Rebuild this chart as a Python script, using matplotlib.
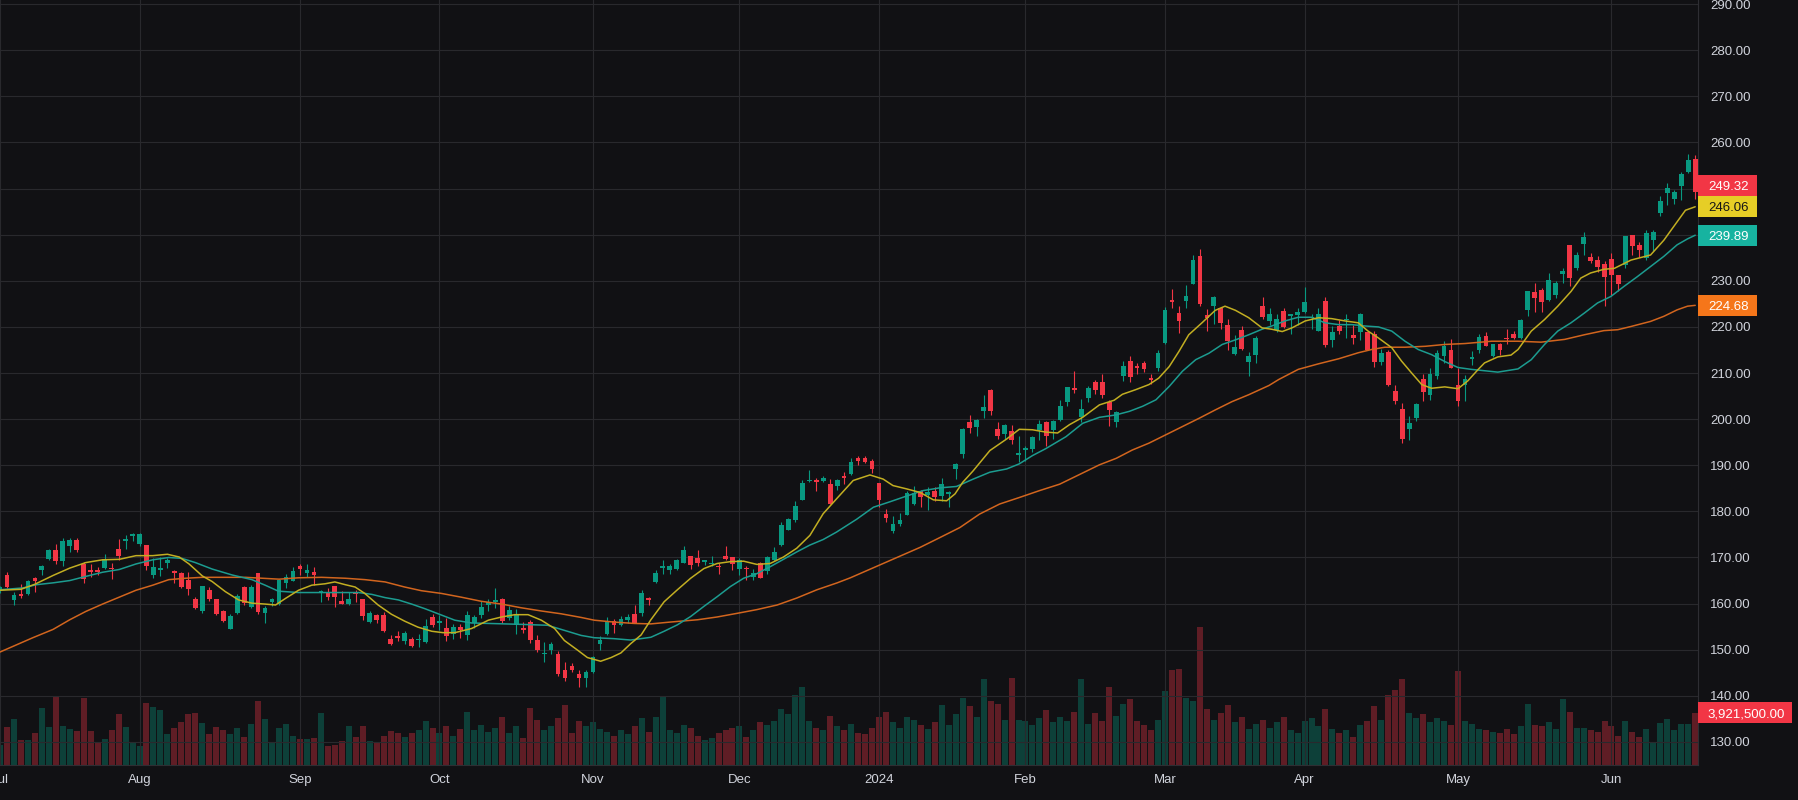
import numpy as np
import matplotlib
matplotlib.use("Agg")
import matplotlib.pyplot as plt
from matplotlib.patches import Rectangle
from matplotlib.transforms import IdentityTransform

plt.rcParams['font.family'] = ['Liberation Sans', 'DejaVu Sans']

# ------------------------------------------------------------------
# daily candles, Jul 2023 -> Jun 2024
# ------------------------------------------------------------------
opens = [163.0, 166.2, 160.8, 162.0, 162.0, 165.6, 167.3, 169.6, 171.6, 169.2,
         172.4, 173.9, 168.6, 167.3, 167.2, 167.7, 167.7, 171.8, 173.5, 174.6,
         173.0, 172.8, 166.2, 167.2, 168.9, 167.0, 166.7, 165.2, 161.1, 158.4,
         163.0, 160.9, 158.4, 154.6, 157.9, 163.7, 159.2, 166.7, 157.9, 160.3,
         159.9, 164.4, 165.0, 168.1, 166.7, 166.9, 162.4, 162.2, 163.8, 160.5,
         159.9, 162.6, 161.1, 156.1, 157.5, 157.5, 152.4, 152.9, 151.8, 152.4,
         152.1, 151.6, 157.2, 155.7, 154.8, 153.5, 155.0, 153.3, 155.7, 157.5,
         159.6, 160.4, 161.1, 156.8, 155.3, 154.8, 156.1, 152.2, 149.0, 150.0,
         149.1, 145.7, 146.4, 144.8, 143.8, 145.1, 151.3, 153.5, 156.3, 155.3,
         156.4, 157.8, 157.9, 161.2, 164.7, 167.7, 167.2, 167.4, 168.9, 170.4,
         169.8, 169.0, 168.5, 168.2, 170.4, 170.2, 167.6, 167.7, 165.8, 168.9,
         167.1, 169.4, 172.8, 176.0, 178.2, 182.5, 186.5, 186.8, 186.5, 186.0,
         185.6, 187.7, 188.1, 191.6, 191.6, 190.9, 186.2, 179.4, 175.8, 177.2,
         179.2, 181.6, 184.4, 183.6, 184.4, 183.3, 183.8, 189.2, 192.5, 199.4,
         198.3, 201.8, 206.4, 197.9, 196.8, 197.5, 192.2, 193.3, 193.6, 197.7,
         199.4, 197.7, 199.8, 203.8, 206.8, 200.4, 204.6, 208.1, 208.1, 203.7,
         199.4, 209.3, 212.7, 211.4, 212.2, 208.8, 211.2, 216.6, 225.9, 223.1,
         225.7, 229.4, 235.3, 222.5, 224.6, 224.2, 220.5, 214.2, 219.4, 212.5,
         214.0, 224.6, 221.2, 219.3, 223.4, 222.3, 222.6, 223.2, 221.9, 219.2,
         225.7, 217.1, 220.1, 221.5, 218.2, 218.8, 218.8, 218.4, 212.5, 214.5,
         206.2, 202.1, 197.8, 200.2, 208.8, 205.2, 209.3, 213.6, 214.9, 207.3,
         207.5, 213.0, 215.1, 218.1, 213.6, 216.2, 217.7, 218.4, 217.5, 223.7,
         227.6, 228.1, 225.9, 227.0, 231.5, 237.8, 232.8, 238.0, 235.2, 234.5,
         233.7, 234.8, 231.2, 233.5, 239.9, 237.8, 235.0, 238.8, 244.7, 249.0,
         247.7, 250.5, 253.7, 256.5]

highs = [163.8, 166.9, 162.6, 164.3, 165.2, 165.7, 168.4, 171.9, 173.0, 174.3,
         174.3, 174.2, 169.1, 168.6, 168.0, 170.7, 168.8, 174.1, 174.8, 175.3,
         175.3, 172.8, 169.9, 170.1, 169.9, 167.2, 166.9, 166.8, 161.4, 163.9,
         163.5, 161.1, 158.7, 157.7, 162.0, 163.9, 164.1, 166.7, 159.5, 161.3,
         165.4, 166.5, 167.9, 168.5, 168.6, 167.9, 162.9, 163.3, 163.8, 162.8,
         162.6, 162.9, 161.1, 158.5, 157.8, 158.2, 153.2, 154.0, 154.0, 152.8,
         153.5, 156.7, 157.7, 157.6, 156.9, 155.6, 155.6, 158.4, 157.5, 160.6,
         160.9, 163.3, 161.3, 159.4, 158.8, 156.0, 156.5, 153.2, 151.7, 151.7,
         149.7, 147.4, 147.2, 145.6, 145.5, 148.6, 153.0, 157.1, 156.7, 157.4,
         157.7, 159.8, 162.9, 161.4, 167.3, 169.4, 168.6, 169.6, 172.4, 170.4,
         171.7, 169.4, 170.4, 168.9, 172.4, 170.2, 169.8, 168.1, 167.4, 169.1,
         170.4, 172.2, 177.7, 178.6, 182.3, 186.8, 189.0, 187.3, 187.7, 187.1,
         187.1, 188.6, 191.5, 192.0, 192.0, 191.4, 186.2, 180.5, 179.0, 179.6,
         184.4, 185.5, 184.6, 185.3, 185.3, 187.2, 184.4, 190.5, 198.1, 200.9,
         200.1, 205.3, 206.6, 199.4, 199.0, 198.8, 196.4, 194.2, 196.4, 199.9,
         199.6, 199.9, 204.2, 207.0, 210.4, 204.4, 207.2, 208.6, 209.9, 204.2,
         201.7, 212.7, 213.8, 212.2, 212.7, 209.9, 214.9, 224.4, 228.3, 224.6,
         229.2, 235.5, 236.8, 223.8, 226.8, 224.4, 221.8, 218.3, 220.3, 214.6,
         218.1, 226.4, 224.2, 222.7, 224.0, 222.9, 224.2, 228.6, 222.7, 224.2,
         226.4, 220.3, 221.4, 222.9, 220.5, 223.1, 219.0, 219.2, 215.3, 214.9,
         207.5, 203.6, 200.6, 203.5, 209.9, 211.2, 215.1, 216.9, 217.3, 211.2,
         209.5, 214.7, 218.4, 218.8, 216.4, 216.6, 219.6, 219.2, 221.8, 227.8,
         229.6, 228.5, 231.7, 230.0, 232.8, 237.8, 236.3, 240.6, 236.0, 235.4,
         234.2, 236.0, 231.3, 239.7, 239.9, 238.4, 241.0, 241.0, 248.3, 251.2,
         249.6, 253.5, 257.6, 257.2]

lows = [162.2, 163.3, 159.6, 161.3, 161.8, 162.6, 166.2, 169.4, 168.6, 168.2,
        171.2, 171.2, 164.5, 165.7, 166.1, 167.5, 165.4, 169.5, 171.8, 173.6,
        172.6, 167.3, 165.6, 165.9, 167.7, 164.4, 163.3, 161.8, 158.8, 157.9,
        160.6, 157.6, 156.0, 154.4, 157.7, 159.7, 159.0, 157.8, 155.7, 159.4,
        159.6, 163.3, 164.8, 166.1, 165.7, 164.1, 160.4, 160.8, 159.2, 159.9,
        159.7, 160.4, 156.5, 155.8, 155.7, 153.9, 151.1, 151.8, 151.2, 150.5,
        150.5, 151.5, 154.9, 154.2, 151.8, 152.4, 152.6, 152.2, 154.8, 156.9,
        158.3, 159.1, 155.9, 156.5, 153.5, 153.7, 151.5, 149.6, 147.3, 149.1,
        144.2, 143.3, 145.1, 142.0, 142.0, 145.0, 149.9, 153.3, 153.7, 155.1,
        155.7, 155.7, 157.4, 159.7, 164.4, 166.5, 166.5, 167.3, 168.7, 167.5,
        168.2, 168.3, 168.1, 166.5, 169.4, 167.2, 166.3, 165.1, 165.1, 165.5,
        166.4, 169.2, 172.6, 175.9, 177.6, 182.5, 186.3, 184.4, 186.3, 181.7,
        184.7, 186.0, 187.9, 190.1, 190.5, 188.3, 181.0, 177.6, 175.3, 176.9,
        179.2, 181.4, 180.9, 180.3, 182.2, 182.2, 180.9, 187.0, 191.6, 197.0,
        196.4, 200.3, 200.9, 195.7, 195.7, 194.6, 190.7, 190.9, 192.9, 195.5,
        194.2, 195.6, 199.6, 202.8, 205.7, 199.3, 203.8, 205.5, 204.6, 198.6,
        198.3, 208.3, 208.0, 209.7, 210.3, 207.7, 210.5, 216.4, 224.2, 218.6,
        224.0, 229.4, 224.6, 219.2, 220.7, 219.6, 214.9, 214.0, 215.1, 209.4,
        212.2, 221.8, 220.5, 219.0, 219.7, 218.4, 220.5, 223.1, 219.5, 219.2,
        215.6, 215.6, 218.4, 217.7, 216.2, 217.1, 215.1, 211.4, 211.7, 207.1,
        203.2, 194.8, 195.4, 199.7, 203.9, 204.1, 208.8, 212.1, 211.0, 202.8,
        203.9, 211.7, 214.3, 215.8, 213.4, 214.0, 216.4, 217.3, 217.3, 222.4,
        223.3, 223.3, 225.7, 226.3, 229.6, 228.9, 232.4, 235.6, 233.9, 231.9,
        224.5, 227.0, 227.7, 232.7, 235.6, 235.2, 234.5, 236.5, 244.0, 246.4,
        246.6, 247.5, 253.3, 247.7]

closes = [163.5, 163.5, 161.8, 161.6, 165.0, 164.8, 168.2, 171.6, 169.2, 173.5,
          173.7, 171.6, 165.4, 166.9, 166.9, 169.7, 167.4, 170.3, 174.1, 175.0,
          175.0, 168.2, 168.0, 167.7, 169.5, 166.7, 163.6, 163.1, 159.0, 163.9,
          160.9, 157.7, 156.3, 157.3, 161.7, 160.2, 163.6, 158.2, 159.0, 160.9,
          165.2, 165.7, 167.1, 167.4, 167.2, 166.1, 162.6, 161.4, 161.4, 159.9,
          160.9, 162.1, 157.4, 157.9, 156.5, 154.0, 151.2, 152.6, 153.7, 150.9,
          152.3, 155.1, 155.3, 156.3, 152.9, 155.0, 154.2, 157.6, 157.2, 159.3,
          160.4, 160.8, 156.3, 158.6, 157.7, 154.3, 152.0, 149.9, 149.1, 151.3,
          144.8, 143.9, 145.7, 143.8, 145.2, 148.5, 152.0, 156.1, 155.4, 156.7,
          157.0, 155.9, 162.4, 160.7, 166.7, 168.1, 168.1, 169.4, 171.7, 168.3,
          168.9, 169.4, 168.9, 168.0, 169.6, 168.5, 169.4, 167.5, 166.6, 165.5,
          170.0, 171.3, 177.1, 178.4, 181.2, 186.2, 186.8, 186.3, 187.3, 181.7,
          186.8, 187.3, 190.7, 191.0, 190.7, 189.2, 182.5, 178.6, 177.2, 178.1,
          184.0, 184.0, 183.1, 184.2, 183.1, 185.9, 184.2, 190.3, 197.9, 198.1,
          199.9, 202.7, 201.8, 196.4, 198.8, 195.5, 192.7, 193.8, 196.2, 199.0,
          196.4, 199.6, 202.9, 206.9, 206.4, 202.2, 206.8, 206.4, 205.3, 201.9,
          201.5, 211.6, 209.1, 211.2, 210.9, 208.6, 214.4, 223.6, 225.5, 221.2,
          226.8, 234.6, 224.9, 222.0, 226.6, 220.9, 217.0, 215.7, 215.3, 213.8,
          217.5, 222.2, 222.7, 221.8, 220.0, 222.9, 223.2, 225.5, 222.1, 222.7,
          216.0, 218.8, 219.2, 221.8, 217.5, 222.7, 215.1, 212.3, 214.3, 207.5,
          203.9, 195.6, 199.1, 203.2, 205.8, 209.7, 214.3, 215.9, 211.0, 203.9,
          208.8, 213.4, 217.9, 215.8, 216.2, 215.1, 217.3, 217.7, 221.6, 227.8,
          226.3, 225.3, 230.2, 229.6, 232.2, 230.6, 235.6, 239.5, 234.3, 232.9,
          230.9, 231.3, 229.4, 239.7, 237.6, 236.7, 240.4, 240.6, 247.3, 250.1,
          249.2, 253.1, 256.3, 249.32]

# volume in millions of shares
volumes_m = [1.5, 2.85, 3.45, 1.87, 1.87, 2.4, 4.27, 2.85, 5.1, 2.92,
             2.7, 2.55, 5.0, 2.55, 1.65, 1.95, 2.62, 3.82, 2.85, 1.65,
             1.42, 4.65, 4.35, 4.12, 2.32, 2.77, 3.22, 3.82, 3.9, 3.15,
             2.32, 2.85, 2.62, 2.32, 2.77, 2.1, 3.07, 4.8, 3.45, 1.72,
             2.77, 3.07, 2.17, 1.95, 1.95, 2.02, 3.9, 1.42, 1.5, 1.8,
             2.92, 2.1, 2.92, 1.8, 1.65, 2.17, 2.55, 2.4, 2.1, 2.4,
             2.6, 3.3, 2.8, 2.4, 2.9, 2.2, 2.7, 4.0, 2.6, 3.0,
             2.5, 2.8, 3.6, 2.4, 2.9, 2.0, 4.3, 3.4, 2.6, 2.9,
             3.5, 4.5, 2.4, 3.3, 2.9, 3.2, 2.7, 2.5, 2.2, 2.6,
             2.3, 2.9, 3.5, 2.5, 3.6, 5.1, 2.6, 2.4, 3.0, 2.8,
             2.2, 1.9, 2.0, 2.4, 2.6, 2.8, 2.9, 2.1, 2.6, 3.2,
             3.0, 3.3, 4.2, 3.8, 5.2, 5.8, 3.3, 2.8, 2.6, 3.7,
             2.9, 2.6, 3.1, 2.4, 2.3, 2.8, 3.6, 4.0, 3.2, 2.8,
             3.6, 3.4, 3.0, 2.7, 3.2, 4.5, 3.0, 3.8, 5.0, 4.4,
             3.6, 6.4, 4.8, 4.6, 3.4, 6.5, 3.4, 3.3, 3.0, 3.5,
             4.1, 3.2, 3.6, 3.3, 4.0, 6.4, 3.1, 3.9, 3.3, 5.8,
             3.7, 4.6, 4.9, 3.3, 3.0, 2.6, 3.4, 5.5, 7.1, 7.2,
             5.0, 4.8, 10.3, 4.2, 3.4, 3.9, 4.5, 3.2, 3.6, 2.7,
             3.1, 3.4, 2.8, 3.2, 3.6, 2.6, 2.4, 3.3, 3.5, 2.9,
             4.2, 2.7, 2.4, 2.6, 2.1, 3.0, 3.3, 4.4, 3.4, 5.2,
             5.6, 6.4, 3.9, 3.5, 3.8, 3.2, 3.5, 3.3, 3.0, 7.0,
             3.3, 3.1, 2.7, 2.6, 2.5, 2.4, 2.7, 2.3, 2.9, 4.6,
             3.0, 2.9, 3.2, 2.7, 4.9, 4.0, 2.8, 2.8, 2.6, 2.5,
             3.3, 2.9, 2.2, 3.3, 2.5, 2.1, 2.7, 1.7, 3.13, 3.45,
             2.62, 3.07, 3.07, 3.9215]

month_labels = ['Jul', 'Aug', 'Sep', 'Oct', 'Nov', 'Dec', '2024', 'Feb', 'Mar', 'Apr', 'May', 'Jun']
month_starts = [0, 20, 43, 63, 85, 106, 126, 147, 167, 187, 209, 231]

# moving averages (bar index, value)
ma_fast_pts = [(0, 162.9), (3, 163.1), (5, 164.2), (7.6, 166.1), (10, 167.7), (12.3, 168.9), (14.7, 169.5),
               (17.1, 169.6), (19.5, 170.4), (21.9, 170.4), (24, 170.7), (25.7, 170.1), (27.1, 168.6),
               (29, 166.0), (30.4, 164.8), (32.3, 162.6), (34.2, 160.8), (36.1, 160.1), (38, 159.9),
               (39.5, 159.7), (40.9, 161.1), (42.8, 162.9), (44.7, 164.0), (46.6, 164.3), (48, 164.7),
               (49.5, 164.1), (50.9, 163.6), (52.3, 162.2), (54.2, 159.7), (56.1, 157.7), (58, 156.2),
               (59.9, 154.9), (61.9, 154.0), (63.5, 153.7), (65.2, 153.7), (67.6, 154.6), (70, 156.4),
               (71.9, 157.1), (73.8, 157.6), (75.7, 157.6), (77.6, 156.4), (79.5, 154.6), (80.9, 152.0),
               (82.8, 149.9), (84.2, 148.3), (86.1, 147.5), (87.6, 148.3), (89, 149.3), (90.4, 151.3),
               (91.9, 153.2), (93.3, 156.5), (95.2, 160.4), (97.1, 163.0), (99, 165.5), (100.9, 167.6),
               (102.8, 168.7), (104.7, 169.1), (106.6, 169.2), (108.5, 168.5), (110.4, 168.7), (112.3, 170.1),
               (114.2, 172.0), (116.1, 174.8), (118, 179.5), (119.9, 182.7), (122.3, 186.7), (124.7, 187.9),
               (126.6, 187.0), (128, 185.6), (129.9, 184.9), (131.9, 184.1), (133.8, 182.5), (135.7, 182.3),
               (136.9, 183.8), (138, 186.3), (139.5, 188.8), (141.9, 193.2), (144.3, 195.7), (146.1, 197.8),
               (148, 197.7), (149.9, 197.2), (151.6, 197.0), (153.3, 198.8), (155.2, 200.4), (157.6, 203.1),
               (159.7, 204.1), (160.9, 205.4), (162.8, 206.4), (164.7, 207.5), (166.1, 208.9), (167.6, 211.4),
               (169, 214.7), (170.4, 218.3), (172.3, 220.9), (174.2, 223.6), (175.6, 224.5), (177.1, 223.6),
               (179, 222.0), (180.9, 219.8), (182.3, 219.5), (183.8, 219.0), (185.2, 219.8), (187.1, 221.3),
               (189, 222.0), (190.9, 221.8), (192.8, 221.3), (194.7, 220.9), (196.1, 219.1), (197.6, 217.6),
               (199.5, 215.5), (200.9, 212.6), (202.3, 210.1), (203.8, 207.5), (205.2, 206.7), (207.1, 207.0),
               (209, 206.6), (210.4, 208.3), (211.9, 210.8), (212.8, 212.2), (214.7, 213.5), (216.6, 213.9),
               (217.6, 215.1), (219.5, 219.1), (221.4, 221.6), (223.3, 224.5), (225.2, 227.7), (226.6, 230.6),
               (228, 231.7), (229.9, 232.5), (231.4, 232.7), (233.8, 234.5), (236.6, 235.6), (238.5, 238.8),
               (240.4, 242.8), (241.6, 245.3), (243, 246.06)]

ma_mid_pts = [(0, 163.0), (3.3, 163.4), (5.2, 164.1), (7.6, 164.5), (10, 165.0), (12.3, 165.9), (14.7, 166.8),
              (17.1, 167.4), (19.5, 168.6), (21.9, 169.5), (24.2, 170.0), (26.1, 169.8), (28, 168.9),
              (30.4, 167.5), (33.3, 166.2), (36.1, 165.2), (38, 164.0), (39.9, 162.7), (42.8, 162.4),
              (45.7, 162.4), (48.6, 162.4), (51.4, 162.4), (53.3, 162.0), (55.2, 161.3), (57.1, 160.8),
              (59, 159.9), (60.9, 158.9), (62.8, 157.8), (65.2, 156.4), (67.6, 155.8), (70, 155.7),
              (74.7, 155.5), (78.5, 155.3), (80.9, 154.2), (83.3, 153.1), (85.2, 152.6), (88, 152.4),
              (90.4, 152.1), (91.4, 152.3), (93.3, 152.7), (95.2, 154.0), (97.1, 155.4), (99, 157.2),
              (100.9, 159.4), (102.8, 161.5), (104.7, 163.7), (106.6, 165.5), (108.5, 166.5), (110.4, 168.0),
              (112.3, 169.6), (114.2, 171.2), (116.1, 172.7), (118, 173.9), (119.9, 175.5), (122.8, 178.3),
              (125.2, 180.9), (127.6, 182.1), (129.9, 183.3), (132.3, 184.5), (134.7, 185.1), (137.1, 185.4),
              (139.5, 187.0), (141.9, 188.5), (144.3, 189.2), (146.1, 190.3), (148, 192.1), (149.9, 193.6),
              (152.8, 196.2), (155.2, 199.1), (157.6, 200.4), (159.9, 200.9), (161.9, 201.7), (163.8, 202.8),
              (165.7, 204.2), (167.6, 207.1), (169.5, 210.4), (171.4, 212.9), (173.3, 214.3), (175.2, 216.2),
              (177.1, 217.2), (179, 218.3), (180.9, 219.5), (182.3, 220.2), (184.2, 221.3), (186.1, 222.1),
              (188, 222.1), (189.9, 220.9), (191.9, 220.5), (193.8, 220.5), (195.7, 220.2), (197.6, 220.0),
              (199.5, 219.1), (201.4, 216.9), (203.3, 215.1), (205.2, 214.0), (207.1, 212.5), (209, 211.2),
              (210.9, 210.8), (212.8, 210.5), (214.7, 210.2), (217.6, 210.9), (219.5, 212.9), (221.4, 216.2),
              (223.3, 219.1), (225.2, 220.9), (227.1, 223.0), (229, 225.2), (230.9, 226.6), (232.8, 228.8),
              (234.7, 230.9), (236.6, 233.1), (238.5, 235.3), (240.4, 237.8), (241.9, 239.1), (243, 239.89)]

ma_slow_pts = [(0, 149.5), (4.7, 152.6), (7.6, 154.4), (10, 156.5), (12.3, 158.3), (14.7, 159.9), (17.1, 161.4),
               (19.5, 162.9), (21.9, 164.0), (24.2, 165.2), (26.6, 165.5), (29, 165.7), (31.9, 165.7),
               (35.2, 165.7), (40, 165.3), (42.8, 165.6), (46.1, 165.7), (49.5, 165.5), (52.3, 165.2),
               (55.2, 164.7), (58, 163.6), (60.4, 162.8), (63.3, 162.2), (66.1, 161.4), (69, 160.5),
               (71.9, 159.9), (74.7, 159.1), (77.6, 158.4), (80.4, 157.8), (83.3, 157.0), (85.2, 156.4),
               (88, 156.0), (90.9, 155.7), (93.3, 155.6), (96.1, 156.0), (100, 156.5), (102.8, 157.1),
               (105.7, 157.9), (108.5, 158.7), (111.4, 159.7), (114.2, 161.2), (117.1, 163.0), (120, 164.5),
               (121.9, 165.6), (131.9, 172.2), (134.7, 174.3), (137.6, 176.5), (140.4, 179.4), (143.3, 181.6),
               (146.1, 183.0), (149, 184.5), (151.9, 185.9), (157.6, 190.1), (160, 191.5), (162.3, 193.3),
               (164.7, 194.8), (167.1, 196.6), (169.5, 198.4), (171.9, 200.2), (174.2, 202.0), (176.6, 203.8),
               (179, 205.3), (181.9, 207.3), (183.3, 208.6), (186.1, 210.8), (189, 212.0), (191.9, 213.1),
               (194.7, 214.4), (196.6, 215.1), (198.5, 215.6), (201.4, 215.6), (204.3, 215.8), (207.1, 216.2),
               (210, 216.4), (213.8, 216.9), (217.6, 216.9), (220.9, 216.7), (224.3, 217.3), (227.1, 218.3),
               (229.9, 219.2), (231.9, 219.4), (233.8, 220.1), (236.6, 221.2), (238.5, 222.3), (240.4, 223.7),
               (241.9, 224.5), (243, 224.68)]

last_fast = 246.06
last_mid = 239.89
last_slow = 224.68
last_close = 249.32
last_volume = 3921500

price_ticks = np.arange(130, 291, 10)

# ------------------------------------------------------------------
bg = '#111114'
grid_col = '#29292d'
text_col = '#d1d4dc'
up_col = '#089981'
down_col = '#f23645'
fast_line, fast_lbl = '#c2ae22', '#e6ce26'
mid_line, mid_lbl = '#1c9c90', '#17b3a0'
slow_line, slow_lbl = '#d2651e', '#f5761a'

W, H = 1798, 800
fig = plt.figure(figsize=(W / 100, H / 100), dpi=100, facecolor=bg)
rect = [0, 35 / H, 1698 / W, 765 / H]
axv = fig.add_axes(rect)
ax = fig.add_axes(rect, sharex=axv)
ax.patch.set_alpha(0)
axv.set_axis_off()

idx = np.arange(len(closes))
o = np.array(opens)
h = np.array(highs)
l = np.array(lows)
c = np.array(closes)
vol = np.array(volumes_m) * 1e6
cols = np.where(c >= o, up_col, down_col)

# volume
axv.bar(idx, vol, width=0.86, color=cols, alpha=0.35, linewidth=0)
axv.set_ylim(0, vol.max() / 0.18)

# candles
ax.vlines(idx, l, h, colors=cols, linewidth=0.8, zorder=3)
ax.bar(idx, np.maximum(np.abs(c - o), 0.25), bottom=np.minimum(o, c), width=0.68,
       color=cols, linewidth=0, zorder=4)

# moving averages
for pts, col in [(ma_slow_pts, slow_line), (ma_mid_pts, mid_line), (ma_fast_pts, fast_line)]:
    xs, ys = zip(*pts)
    ax.plot(xs, ys, color=col, linewidth=1.1, zorder=5, solid_capstyle='round')

ax.set_xlim(0.35, len(closes) - 1 + 0.4)
ax.set_ylim(125.0, 290.9)

ax.set_xticks(month_starts, month_labels)
ax.grid(True, color=grid_col, linewidth=0.8)
ax.set_axisbelow(True)
ax.yaxis.tick_right()
ax.tick_params(axis='both', length=0, colors=text_col, labelsize=9.5)
ax.tick_params(axis='y', pad=8.6)
ax.tick_params(axis='x', pad=6.5)
for s in ['top', 'left']:
    ax.spines[s].set_visible(False)
for s in ['right', 'bottom']:
    ax.spines[s].set_color('#2e2e33')
    ax.spines[s].set_linewidth(0.8)

# last-value labels on the price scale
x_edge = ax.get_position().x1 * W
box_h = 21


def py(v):
    return ax.transData.transform((0, v))[1]


labels = sorted([(last_slow, slow_lbl, 'white'), (last_mid, mid_lbl, 'white'),
                 (last_fast, fast_lbl, '#161616'), (last_close, down_col, 'white')])
spans = []
prev = None
for val, fc, tc in labels:
    y = py(val)
    if prev is not None and y < prev + box_h:
        y = prev + box_h
    prev = y
    fig.add_artist(Rectangle((x_edge, y - box_h / 2), 59, box_h, transform=IdentityTransform(),
                             facecolor=fc, edgecolor='none'))
    fig.text(x_edge + 31, y, f'{val:.2f}', transform=IdentityTransform(), ha='center',
             va='center_baseline', color=tc, fontsize=9.5)
    spans.append((y - box_h / 2, y + box_h / 2))

yv = axv.transData.transform((0, last_volume))[1]
fig.add_artist(Rectangle((x_edge, yv - box_h / 2), 94, box_h, transform=IdentityTransform(),
                         facecolor=down_col, edgecolor='none'))
fig.text(x_edge + 48, yv, f'{last_volume:,.2f}', transform=IdentityTransform(), ha='center',
         va='center_baseline', color='white', fontsize=9.5)
spans.append((yv - box_h / 2, yv + box_h / 2))

tick_labels = []
for t in price_ticks:
    yp = py(t)
    hidden = any(lo - 2 <= yp <= hi + 2 for lo, hi in spans)
    tick_labels.append('' if hidden else f'{t:.2f}')
ax.set_yticks(price_ticks, tick_labels)

fig.savefig('out.png', dpi=100, facecolor=bg)
